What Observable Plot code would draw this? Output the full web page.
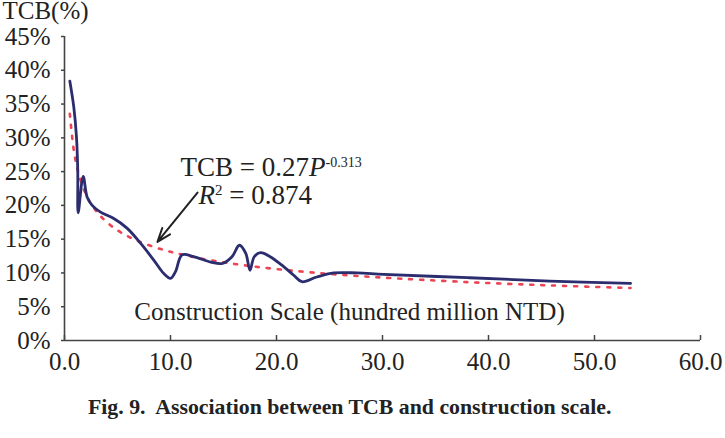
<!DOCTYPE html>
<html>
<head>
<meta charset="utf-8">
<script src="https://cdn.jsdelivr.net/npm/d3@7"></script>
<script src="https://cdn.jsdelivr.net/npm/@observablehq/plot@0.6"></script>
<style>
  body { margin: 0; background: #fff; }
  #chart { width: 725px; }
  .caption {
    font-family: "Liberation Serif", "Times New Roman", serif;
    font-weight: bold;
    font-size: 21.8px;
    color: #222;
    margin: 15px 0 0 88px;
    white-space: pre;
  }
</style>
</head>
<body>
<div id="chart"></div>
<div class="caption">Fig. 9.  Association between TCB and construction scale.</div>
<script>
// Construction scale (hundred million NTD) and observed TCB (%)
const scale = [0.50, 0.88, 1.13, 1.25, 1.29, 1.76, 2.14, 2.61, 3.40, 4.65, 5.92, 7.17, 8.42, 9.37, 10.0, 10.47,
  11.1, 12.2, 13.8, 14.9, 15.8, 16.5, 17.1, 17.5, 17.9, 18.5, 19.4, 20.7, 21.6, 22.4, 23.8, 25.4, 27.6, 30.1, 38.0, 45.8, 53.4];
const tcb = [38.4, 34.5, 30.1, 25.2, 18.9, 24.3, 21.2, 20.0, 19.0, 18.05, 16.6, 14.4, 11.9, 9.9, 9.2, 10.2,
  12.7, 12.4, 11.6, 11.4, 12.4, 14.1, 12.9, 10.4, 12.4, 13.0, 12.4, 10.9, 9.7, 8.7, 9.4, 10.0, 10.0, 9.8, 9.3, 8.8, 8.45];

// Power-law trend: TCB = a * P^b
const fitCoef = 0.27;
const fitExp = -0.313;
const fitR2 = 0.874;

const xTicks = [0, 10, 20, 30, 40, 50, 60];
const yTicks = [0, 5, 10, 15, 20, 25, 30, 35, 40, 45];

const observed = scale.map((p, i) => ({p, v: tcb[i]}));
const trend = scale.map(p => ({p, v: 100 * fitCoef * Math.pow(p, fitExp)}));

const eqText = `TCB = ${fitCoef}P`;
const r2Text = `R2 = ${fitR2}`;

const ink = "#222";
const axisInk = "#444";
const serif = '"Liberation Serif", "Times New Roman", serif';

const plot = Plot.plot({
  width: 725,
  height: 380,
  marginLeft: 64,
  marginRight: 25,
  marginTop: 36,
  marginBottom: 40,
  style: {fontFamily: serif, fontSize: "25px", color: ink, background: "white", overflow: "visible"},
  x: {domain: [0, 60], label: null},
  y: {domain: [0, 45], label: null},
  marks: [
    Plot.axisY(yTicks, {tickSize: 3, tickPadding: 11, tickFormat: d => d + "%", stroke: axisInk, strokeWidth: 1.5}),
    Plot.axisX(xTicks, {tickSize: 0, tickPadding: 12, tickFormat: d3.format(".1f")}),
    // inward ticks on the x axis
    Plot.tickX(xTicks, {x: d => d, insetTop: 299, stroke: axisInk, strokeWidth: 1.5}),
    Plot.ruleY([0], {stroke: axisInk, strokeWidth: 1.6}),
    Plot.ruleX([0], {stroke: axisInk, strokeWidth: 1.6}),
    Plot.line(trend, {x: "p", y: "v", stroke: "#ec4453", strokeWidth: 2.6, strokeDasharray: "3,8", curve: "catmull-rom"}),
    Plot.line(observed, {x: "p", y: "v", stroke: "#2b2d6e", strokeWidth: 2.8, curve: "catmull-rom"}),
    Plot.arrow([{x1: 12.55, y1: 21.9, x2: 8.77, y2: 14.6}], {
      x1: "x1", y1: "y1", x2: "x2", y2: "y2", stroke: ink, strokeWidth: 2, headLength: 11, headAngle: 40
    }),
    Plot.text([eqText], {x: 10.94, y: 24.3, text: d => d, textAnchor: "start", lineAnchor: "bottom", fontSize: 27, fill: ink}),
    Plot.text([r2Text], {x: 12.64, y: 20.2, text: d => d, textAnchor: "start", lineAnchor: "bottom", fontSize: 27, fill: ink}),
    Plot.text(["Construction Scale (hundred million NTD)"], {
      frameAnchor: "bottom", dx: -33, dy: -21, lineAnchor: "bottom", fontSize: 25, fill: ink
    }),
    Plot.text(["TCB(%)"], {
      frameAnchor: "top-left", dx: -62, dy: -18, textAnchor: "start", lineAnchor: "bottom", fontSize: 25, fill: ink
    })
  ]
});

// Rich text for the fitted equation and R²
d3.select(plot).selectAll("text").each(function () {
  const t = d3.select(this);
  if (this.textContent === eqText) {
    t.text(null);
    t.append("tspan").text(`TCB = ${fitCoef}`);
    t.append("tspan").attr("font-style", "italic").text("P");
    t.append("tspan").attr("font-size", 14).attr("dy", -9).text(`${fitExp}`);
  } else if (this.textContent === r2Text) {
    t.text(null);
    t.append("tspan").attr("font-style", "italic").text("R");
    t.append("tspan").attr("font-size", 15).attr("dy", -9).text("2");
    t.append("tspan").attr("dy", 9).text(` = ${fitR2}`);
  }
});

document.getElementById("chart").appendChild(plot);
</script>
</body>
</html>
